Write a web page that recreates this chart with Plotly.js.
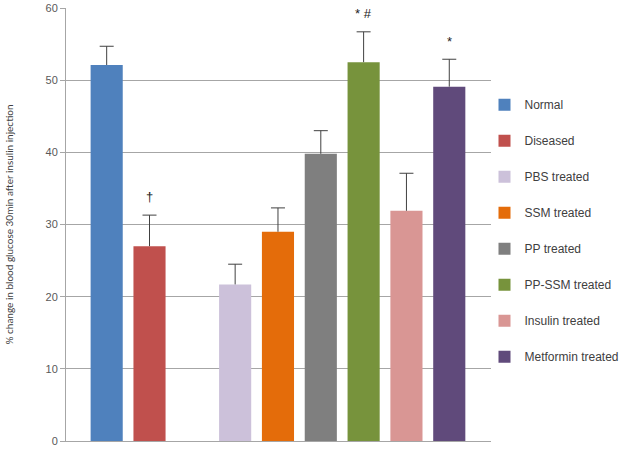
<!DOCTYPE html>
<html>
<head>
<meta charset="utf-8">
<script src="https://cdn.plot.ly/plotly-3.0.1.min.js"></script>
<style>
  html, body { margin: 0; padding: 0; background: #fff; }
  #chart { width: 629px; height: 451px; }
</style>
</head>
<body>
<div id="chart"></div>
<script>
const groups = ["Normal", "Diseased", "PBS treated", "SSM treated", "PP treated", "PP-SSM treated", "Insulin treated", "Metformin treated"];
const slots = [0, 1, 3, 4, 5, 6, 7, 8];
const means = [52.1, 27.0, 21.7, 29.0, 39.8, 52.5, 31.9, 49.1];
const errors = [2.6, 4.3, 2.8, 3.3, 3.2, 4.2, 5.2, 3.8];
const colors = ["#4f81bd", "#c0504d", "#ccc1da", "#e46c0a", "#7f7f7f", "#77933c", "#d99694", "#604a7b"];
const markGroups = [1, 5, 7];
const markTexts = ["\u2020", "* #", "*"];

const FONT = "Liberation Sans, Arial, sans-serif";

const traces = groups.map((name, i) => ({
  type: "bar",
  name,
  x: [slots[i]],
  y: [means[i]],
  width: 0.75,
  marker: { color: colors[i] },
  legendgroup: "g" + i,
  error_y: {
    type: "data",
    array: [errors[i]],
    arrayminus: [0],
    symmetric: false,
    color: "#404040",
    thickness: 1,
    width: 0,
  },
}));

// caps on top of the error bars only
traces.push({
  type: "scatter",
  mode: "markers",
  x: slots,
  y: means.map((m, i) => m + errors[i]),
  marker: { symbol: "line-ew-open", size: 10, color: "#404040", line: { color: "#404040", width: 1 } },
  showlegend: false,
  hoverinfo: "skip",
});

const annotations = markGroups.map((g, k) => ({
  x: slots[g],
  y: means[g] + errors[g] + 1.2,
  text: markTexts[k],
  showarrow: false,
  yanchor: "bottom",
  font: { family: FONT, size: 13, color: "#222" },
}));

Plotly.newPlot(
  "chart",
  traces,
  {
    width: 629,
    height: 451,
    margin: { l: 66, r: 5, t: 8, b: 10 },
    barmode: "overlay",
    showlegend: true,
    paper_bgcolor: "#fff",
    plot_bgcolor: "rgba(0,0,0,0)",
    font: { family: FONT, color: "#404040" },
    xaxis: {
      domain: [0, 426 / 558],
      range: [-0.95, 8.98],
      showticklabels: false,
      ticks: "",
      showgrid: false,
      zeroline: false,
      showline: true,
      linecolor: "#a6a6a6",
      linewidth: 1,
      fixedrange: true,
    },
    yaxis: {
      range: [0, 60],
      dtick: 10,
      ticks: "outside",
      ticklen: 5,
      tickcolor: "#a6a6a6",
      showgrid: true,
      gridcolor: "#a6a6a6",
      gridwidth: 1,
      zeroline: false,
      showline: true,
      linecolor: "#a6a6a6",
      linewidth: 1,
      tickfont: { size: 11, color: "#595959" },
      title: {
        text: "% change in blood glucose 30min after insulin injection",
        font: { family: "Lato, Liberation Sans, sans-serif", size: 10, color: "#404040" },
        standoff: 30,
      },
    },
    legend: {
      x: 0.75,
      xanchor: "left",
      y: 0.81,
      yanchor: "top",
      font: { size: 12, color: "#404040" },
      tracegroupgap: 17,
      itemwidth: 30,
      bgcolor: "rgba(0,0,0,0)",
    },
    annotations,
  },
  { staticPlot: true },
);
</script>
</body>
</html>
